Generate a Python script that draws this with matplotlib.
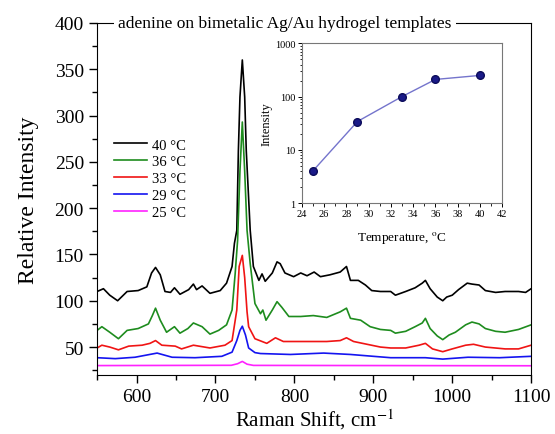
import matplotlib
matplotlib.use("Agg")
import matplotlib.pyplot as plt
from matplotlib.ticker import MultipleLocator, FixedLocator, NullFormatter

plt.rcParams['font.family'] = ['Liberation Serif', 'DejaVu Serif']
plt.rcParams['mathtext.fontset'] = 'stix'

# spectra (Raman shift, relative intensity)
black_x = [550, 558, 566, 576, 588, 602, 613, 619, 624, 630, 636, 643, 648, 655, 666, 672, 676, 683,
           693, 706, 714, 721, 724, 727, 729, 731, 734, 737, 739, 744, 748, 755, 759, 763, 772, 778,
           782, 788, 799, 808, 816, 825, 833, 845, 858, 866, 871, 881, 890, 898, 909, 922, 928, 941,
           953, 962, 966, 972, 981, 988, 993, 1000, 1008, 1019, 1025, 1034, 1042, 1055, 1067, 1084,
           1093, 1100]
black_y = [110, 113, 106, 100, 110, 111, 115, 130, 136, 128, 110, 109, 114, 107, 112, 118, 112, 116,
           108, 111, 119, 137, 162, 176, 262, 320, 360, 320, 262, 176, 137, 122, 129, 121, 130, 142,
           140, 130, 126, 130, 127, 131, 126, 128, 131, 137, 122, 122, 117, 111, 110, 110, 106, 110,
           114, 119, 122, 113, 104, 100, 104, 106, 112, 119, 118, 117, 111, 109, 110, 110,
           109, 113]

green_x = [550, 556, 566, 577, 588, 602, 615, 620, 624, 630, 638, 648, 655, 665, 672, 683, 693, 704,
           714, 721, 725, 728, 731, 734, 737, 740, 744, 750, 757, 760, 764, 772, 778, 784, 793, 808,
           824, 841, 858, 866, 871, 884, 896, 909, 922, 928, 941, 953, 962, 966, 972, 981, 988, 996,
           1004, 1017, 1025, 1034, 1042, 1055, 1067, 1084, 1100]
green_y = [68, 72, 66, 59, 68, 70, 75, 84, 92, 79, 66, 72, 65, 70, 76, 72, 64, 68,
           74, 90, 130, 165, 240, 293, 240, 176, 140, 97, 86, 90, 79, 90, 99, 93, 83, 83,
           84, 82, 88, 92, 81, 79, 72, 69, 68, 65, 67, 72, 76, 81, 70, 62, 58, 63,
           66, 74, 77, 75, 70, 67, 66, 69, 74]

red_x = [550, 556, 566, 577, 590, 607, 617, 624, 632, 649, 657, 672, 693, 712, 721, 727, 730, 734,
         737, 740, 742, 750, 759, 765, 776, 786, 816, 841, 858, 866, 875, 892, 909, 922, 941, 958,
         966, 975, 988, 1000, 1017, 1027, 1042, 1067, 1084, 1100]
red_y = [49, 52, 50, 47, 51, 52, 54, 57, 52, 51, 48, 52, 49, 52, 57, 90, 137, 149,
         125, 88, 72, 59, 56, 54, 60, 56, 56, 56, 57, 60, 56, 53, 50, 49, 49, 52,
         54, 48, 45, 48, 52, 53, 50, 48, 48, 52]

blue_x = [550, 573, 598, 626, 645, 674, 708, 721, 727, 731, 734, 738, 742, 750, 757, 795, 837, 871,
          900, 922, 966, 988, 1020, 1060, 1100]
blue_y = [38.5, 37.5, 39, 43.5, 39, 38.5, 40, 44.5, 57, 68, 72.5, 63, 49, 44, 43, 42, 43.5, 42,
          40, 38.5, 38.5, 37, 39, 38.5, 40]

mag_x = [550, 720, 728, 734, 740, 748, 1100]
mag_y = [30, 30.3, 32, 34.5, 31.5, 30.2, 29.8]

labels = ['40 °C', '36 °C', '33 °C', '29 °C', '25 °C']
colors = ['black', '#1e8c1e', '#f01414', '#1414f0', '#ff22ff']

# inset: peak intensity vs temperature
temps = [25, 29, 33, 36, 40]
peak_int = [4, 34, 100, 210, 250]

fig = plt.figure(figsize=(5.55, 4.35), dpi=100)
ax = fig.add_axes([0.175, 0.136, 0.782, 0.809])

series = [(black_x, black_y), (green_x, green_y), (red_x, red_y), (blue_x, blue_y), (mag_x, mag_y)]
for (xs, ys), c, lab in zip(series, colors, labels):
    ax.plot(xs, ys, color=c, lw=1.2, label=lab)

ax.set_xlim(550, 1100)
ax.set_ylim(20, 400)
ax.xaxis.set_major_locator(MultipleLocator(100))
ax.xaxis.set_minor_locator(MultipleLocator(50))
ax.yaxis.set_major_locator(MultipleLocator(50))
ax.yaxis.set_minor_locator(MultipleLocator(25))
ax.tick_params(which='major', direction='out', length=6, width=1, labelsize=14)
ax.tick_params(which='minor', direction='out', length=3.5, width=1)
ax.set_xlabel('Raman Shift, cm$^{-1}$', fontsize=15, labelpad=1)
ax.set_ylabel('Relative Intensity', fontsize=17, labelpad=11)

ax.text(0.433, 1.0, 'adenine on bimetalic Ag/Au hydrogel templates', transform=ax.transAxes,
        ha='center', va='center', fontsize=12.5,
        bbox=dict(facecolor='white', edgecolor='none', pad=3))

ax.legend(loc='upper left', bbox_to_anchor=(0.038, 0.672), frameon=False, fontsize=10.5,
          handlelength=2.3, handletextpad=0.3, labelspacing=0.25, borderpad=0, borderaxespad=0)

ins = fig.add_axes([0.5436, 0.531, 0.3614, 0.367])
ins.plot(temps, peak_int, color='#7474cc', lw=1, marker='o', ms=5.5,
         markerfacecolor='#1a1a88', markeredgecolor='#0c0c5a')
ins.set_yscale('log')
ins.set_xlim(24, 42)
ins.set_ylim(1, 1000)
ins.xaxis.set_major_locator(MultipleLocator(2))
ins.xaxis.set_minor_locator(MultipleLocator(1))
ins.yaxis.set_major_locator(FixedLocator([1, 10, 100, 1000]))
ins.yaxis.set_major_formatter(plt.FuncFormatter(lambda v, p: '%d' % v))
ins.yaxis.set_minor_formatter(NullFormatter())
ins.tick_params(which='major', direction='out', length=3, width=0.7, labelsize=7.5, pad=1.5)
ins.tick_params(which='minor', direction='out', length=1.8, width=0.6)
for s in ins.spines.values():
    s.set_color('#777777')
    s.set_linewidth(0.8)
ins.set_ylabel('Intensity', fontsize=9, labelpad=2)
ins.set_xlabel('Temperature, $^{\\mathrm{o}}$C', fontsize=9.5, labelpad=8)

fig.savefig('out.png', dpi=100)
